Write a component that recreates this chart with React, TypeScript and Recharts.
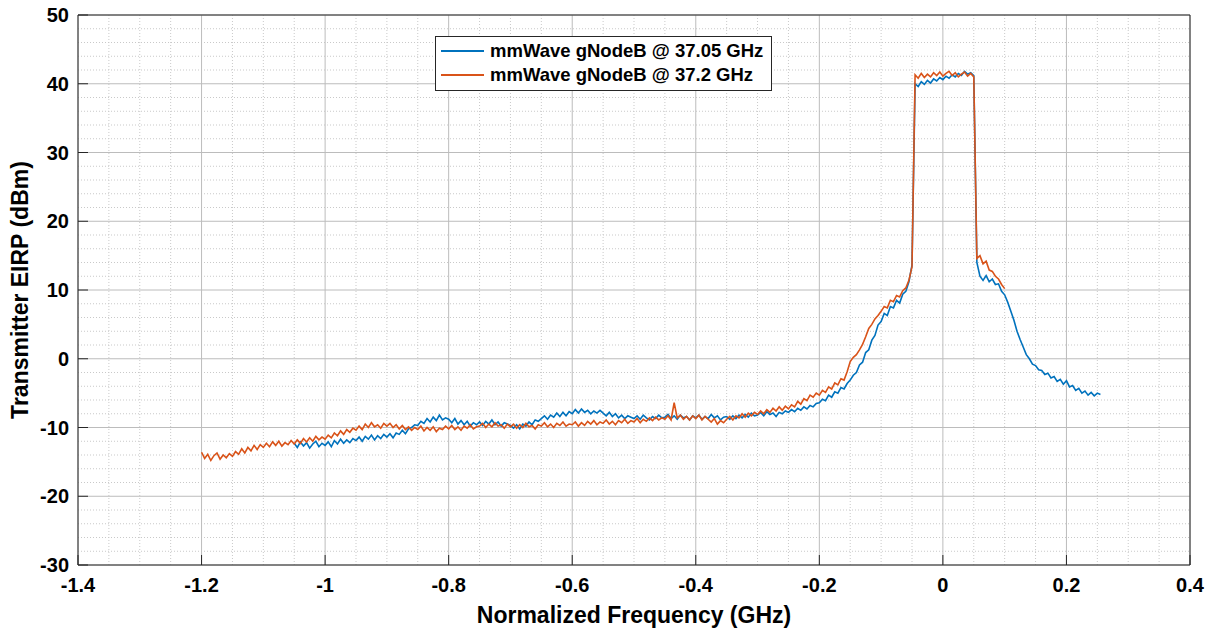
import React from 'react'
import { LineChart, Line, XAxis, YAxis, CartesianGrid, Label } from 'recharts'

const FONT = '"Liberation Sans", Arial, Helvetica, sans-serif'
const STEP = 0.005

// axis ticks
const freqTicks = [-1.4, -1.2, -1, -0.8, -0.6, -0.4, -0.2, 0, 0.2, 0.4]
const dbmTicks = [-30, -20, -10, 0, 10, 20, 30, 40, 50]
const minorFreq = [
  -1.35, -1.3, -1.25, -1.15, -1.1, -1.05, -0.95, -0.9, -0.85, -0.75, -0.7, -0.65,
  -0.55, -0.5, -0.45, -0.35, -0.3, -0.25, -0.15, -0.1, -0.05, 0.05, 0.1, 0.15,
  0.25, 0.3, 0.35,
]
const minorDbm = [
  -28, -26, -24, -22, -18, -16, -14, -12, -8, -6, -4, -2, 2, 4, 6, 8, 12, 14, 16, 18,
  22, 24, 26, 28, 32, 34, 36, 38, 42, 44, 46, 48,
]

// 37.05 GHz trace (blue), sampled every 5 MHz
const BLUE_LEFT_START = -1.05
const blueLeft = [
  -12.3, -12.9, -12.1, -12.7, -12.2, -13.0, -12.4, -12.0, -12.8, -12.3,
  -12.6, -12.1, -12.8, -11.9, -12.4, -11.7, -12.3, -11.8, -12.2, -11.6,
  -11.9, -11.4, -12.0, -11.3, -11.7, -11.1, -11.8, -11.2, -11.6, -11.0,
  -11.4, -10.9, -11.5, -10.8, -11.0, -10.4, -10.9, -10.2, -10.0, -9.6,
  -9.7, -9.1, -9.4, -8.7, -9.2, -8.5, -9.0, -8.2, -8.9, -8.6,
  -8.8, -9.3, -8.7, -9.5, -9.0, -9.6, -9.1, -9.8, -9.3, -9.6,
  -9.2, -9.7, -9.1, -9.5, -8.9, -9.6, -9.2, -9.8, -9.3, -9.5,
  -9.7, -10.1, -9.6, -10.2, -9.5, -9.8, -9.2, -9.6, -8.9, -9.1,
  -8.7, -8.3, -8.8, -8.2, -8.5, -7.9, -8.4, -7.8, -8.3, -7.7,
  -8.0, -7.4, -7.9, -7.3, -7.8, -7.5, -8.0, -7.6, -7.9, -7.5,
  -7.9, -8.3, -7.8, -8.4, -8.0, -8.6, -8.2, -8.7, -8.3, -8.5,
  -8.7, -8.3, -8.8, -8.2, -8.6, -8.9, -8.4, -8.7, -8.2, -8.6,
  -8.5, -8.1, -8.7, -8.3, -8.8, -8.2, -8.6, -8.4, -8.9, -8.3,
  -8.6, -8.2, -8.8, -8.4, -8.7, -8.1, -8.6, -8.3, -8.9, -8.5,
  -8.4, -8.8, -8.3, -8.7, -8.2, -8.6, -8.1, -8.5, -7.9, -8.3,
  -8.2, -7.8, -8.3, -7.7, -8.1, -7.9, -8.4, -7.8, -8.0, -7.6,
  -7.8, -7.4, -7.7, -7.2, -7.5, -7.0, -7.3, -6.8, -7.0, -6.5,
  -6.4, -5.9, -6.1, -5.3, -5.6, -4.8, -5.0, -4.2, -4.4, -3.6,
  -3.1, -2.4, -2.0, -0.9, -0.5, 0.9, 1.3, 2.7, 3.4, 4.9,
  5.4, 6.6, 6.3, 7.6, 7.4, 8.5, 8.1, 9.4, 9.8, 11.2,
]
const BLUE_BAND_START = -0.05
const blueBand = [
  13.6, 40.0, 39.6, 40.3, 39.9, 40.5, 40.1, 40.7, 40.4, 40.9, 40.6,
  41.1, 40.8, 41.3, 41.0, 41.5, 41.2, 41.8, 41.4, 41.6, 41.2,
]
const BLUE_RIGHT_START = 0.055
const blueRight = [
  14.0, 12.0, 11.4, 12.1, 11.2, 11.6, 10.8, 10.9, 9.8, 9.3,
  8.2, 6.9, 5.6, 4.0, 2.8, 1.7, 0.6, 0.0, -0.8, -1.0,
  -1.6, -1.7, -2.3, -2.1, -2.8, -2.6, -3.3, -3.0, -3.7, -3.2,
  -4.1, -3.9, -4.6, -4.3, -5.0, -4.7, -5.3, -4.9, -5.4, -5.0,
  -5.2,
]

// 37.2 GHz trace (orange)
const ORANGE_LEFT_START = -1.2
const orangeLeft = [
  -13.6, -14.5, -13.9, -14.8, -14.1, -13.7, -14.6, -14.0, -14.4, -13.8,
  -14.2, -13.5, -13.9, -13.1, -13.7, -12.9, -13.4, -12.6, -13.2, -12.5,
  -12.9, -12.3, -12.8, -12.1, -12.6, -12.0, -12.7, -12.2, -12.5, -11.9,
  -12.4, -11.8, -12.3, -11.6, -12.1, -11.5, -12.0, -11.3, -11.8, -11.4,
  -11.7, -11.1, -11.5, -10.8, -11.2, -10.5, -11.0, -10.3, -10.7, -10.1,
  -10.4, -9.8, -10.3, -9.5, -10.0, -9.3, -9.9, -9.6, -10.1, -9.4,
  -9.8, -9.4, -10.0, -9.6, -10.2, -9.7, -10.3, -9.9, -10.4, -10.0,
  -10.3, -9.8, -10.5, -10.0, -10.4, -9.9, -10.6, -10.1, -10.3, -9.8,
  -10.2, -9.7, -10.3, -9.9, -10.4, -9.8, -10.1, -9.6, -10.2, -9.9,
  -9.8, -9.4, -10.0, -9.5, -9.9, -9.3, -9.8, -9.6, -10.1, -9.5,
  -9.9, -9.5, -10.1, -9.6, -10.0, -9.4, -9.9, -9.7, -10.2, -9.6,
  -9.8, -9.3, -9.9, -9.5, -10.0, -9.4, -9.7, -9.2, -9.8, -9.5,
  -9.6, -9.2, -9.8, -9.3, -9.7, -9.1, -9.5, -9.0, -9.6, -9.2,
  -9.4, -8.9, -9.5, -9.1, -9.6, -9.0, -9.3, -8.8, -9.4, -9.0,
  -9.2, -8.7, -9.3, -8.8, -9.1, -8.6, -9.0, -8.5, -8.9, -8.6,
  -8.8, -8.3, -8.9, -6.4, -8.6, -8.2, -8.8, -8.4, -8.9, -8.3,
  -8.7, -8.2, -8.9, -8.4, -8.8, -9.2, -8.7, -9.5, -9.0, -9.3,
  -8.8, -8.4, -8.9, -8.3, -8.6, -8.0, -8.5, -7.9, -8.3, -7.8,
  -8.1, -7.6, -8.0, -7.4, -7.8, -7.2, -7.6, -7.0, -7.5, -6.9,
  -7.3, -6.7, -7.0, -6.2, -6.6, -5.8, -6.1, -5.3, -5.6, -5.0,
  -5.3, -4.6, -4.9, -4.1, -4.4, -3.5, -3.8, -2.9, -3.1, -1.9,
  -0.4, 0.2, 0.6, 1.3, 2.1, 3.2, 4.4, 5.0, 5.8, 6.3,
  6.9, 7.6, 7.4, 8.5, 8.3, 9.2, 9.0, 9.9, 10.3, 11.4,
]
const ORANGE_BAND_START = -0.05
const orangeBand = [
  13.4, 41.3, 40.8, 41.5, 40.9, 41.4, 41.0, 41.6, 41.2, 41.7, 41.1,
  41.5, 41.8, 41.2, 41.6, 41.0, 41.4, 41.7, 41.1, 41.5, 41.0,
]
const ORANGE_RIGHT_START = 0.055
const orangeRight = [14.6, 15.0, 13.8, 14.2, 12.9, 12.7, 12.0, 11.6, 10.8, 10.2]

const toPoints = (start: number, values: number[]) =>
  values.map((v, i) => ({ f: Math.round((start + i * STEP) * 1000) / 1000, v }))

const blueData = [
  ...toPoints(BLUE_LEFT_START, blueLeft),
  ...toPoints(BLUE_BAND_START, blueBand),
  ...toPoints(BLUE_RIGHT_START, blueRight),
]
const orangeData = [
  ...toPoints(ORANGE_LEFT_START, orangeLeft),
  ...toPoints(ORANGE_BAND_START, orangeBand),
  ...toPoints(ORANGE_RIGHT_START, orangeRight),
]

const BLUE = '#0072BD'
const ORANGE = '#D95319'
const AXIS = '#262626'

const tickStyle = { fill: '#000', fontSize: 20, fontWeight: 'bold', fontFamily: FONT }
const titleStyle = { fill: '#000', fontSize: 23, fontWeight: 'bold', fontFamily: FONT }

function LegendBox() {
  const rows = [
    { color: BLUE, text: 'mmWave gNodeB @ 37.05 GHz' },
    { color: ORANGE, text: 'mmWave gNodeB @ 37.2 GHz' },
  ]
  return (
    <div
      style={{
        position: 'absolute',
        left: 435,
        top: 36,
        width: 335,
        height: 51,
        border: `1px solid ${AXIS}`,
        background: '#fff',
        paddingTop: 2,
        boxSizing: 'content-box',
      }}
    >
      {rows.map((r) => (
        <div key={r.text} style={{ display: 'flex', alignItems: 'center', height: 24 }}>
          <span style={{ display: 'inline-block', width: 43, height: 2, background: r.color, marginLeft: 5, marginRight: 6 }} />
          <span style={{ fontFamily: FONT, fontWeight: 'bold', fontSize: 18.5, color: '#000', whiteSpace: 'nowrap' }}>
            {r.text}
          </span>
        </div>
      ))}
    </div>
  )
}

export default function App() {
  return (
    <div style={{ position: 'absolute', left: 0, top: 0, width: 1221, height: 634, background: '#fff' }}>
      <LineChart width={1221} height={634} margin={{ top: 15, right: 31, bottom: 3, left: 8 }}>
        <CartesianGrid
          horizontalValues={minorDbm}
          verticalValues={minorFreq}
          stroke="#c9c9c9"
          strokeDasharray="1 2"
        />
        <CartesianGrid horizontalValues={dbmTicks} verticalValues={freqTicks} stroke="#bcbcbc" />
        <XAxis
          dataKey="f"
          type="number"
          domain={[-1.4, 0.4]}
          ticks={freqTicks}
          interval={0}
          allowDataOverflow
          height={66}
          tickSize={-10}
          tickMargin={23}
          tickLine={{ stroke: AXIS }}
          axisLine={{ stroke: AXIS }}
          tick={tickStyle}
        >
          <Label value="Normalized Frequency (GHz)" position="insideBottom" offset={8} style={titleStyle} />
        </XAxis>
        <XAxis
          xAxisId="top"
          orientation="top"
          mirror
          type="number"
          domain={[-1.4, 0.4]}
          ticks={freqTicks}
          interval={0}
          tickSize={10}
          tick={false}
          tickLine={{ stroke: AXIS }}
          axisLine={{ stroke: AXIS }}
        />
        <YAxis
          type="number"
          domain={[-30, 50]}
          ticks={dbmTicks}
          interval={0}
          allowDataOverflow
          width={70}
          tickSize={-10}
          tickMargin={19}
          tickLine={{ stroke: AXIS }}
          axisLine={{ stroke: AXIS }}
          tick={tickStyle}
        >
          <Label
            value="Transmitter EIRP (dBm)"
            angle={-90}
            position="insideLeft"
            offset={12}
            style={{ ...titleStyle, textAnchor: 'middle' }}
          />
        </YAxis>
        <YAxis
          yAxisId="right"
          orientation="right"
          mirror
          type="number"
          domain={[-30, 50]}
          ticks={dbmTicks}
          interval={0}
          tickSize={10}
          tick={false}
          tickLine={{ stroke: AXIS }}
          axisLine={{ stroke: AXIS }}
        />
        <Line
          data={blueData}
          dataKey="v"
          type="linear"
          stroke={BLUE}
          strokeWidth={1.6}
          dot={false}
          isAnimationActive={false}
        />
        <Line
          data={orangeData}
          dataKey="v"
          type="linear"
          stroke={ORANGE}
          strokeWidth={1.6}
          dot={false}
          isAnimationActive={false}
        />
      </LineChart>
      <LegendBox />
    </div>
  )
}
